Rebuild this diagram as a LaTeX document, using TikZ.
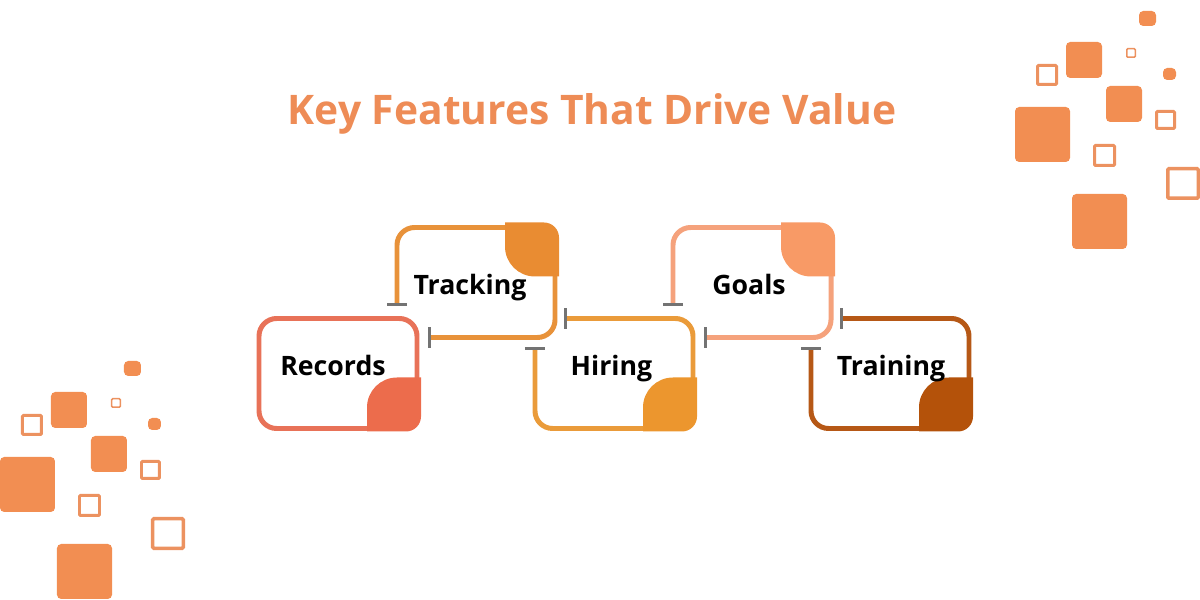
\documentclass[tikz,border=0pt]{standalone}
\usepackage{fontspec}
\setmainfont{Open Sans}
\usetikzlibrary{arrows.meta,calc}
\definecolor{sqorange}{RGB}{242,142,82}
\definecolor{sqline}{RGB}{236,146,96}
\definecolor{titleorange}{RGB}{238,140,86}
\definecolor{recframe}{RGB}{232,114,88}
\definecolor{recblob}{RGB}{236,108,76}
\definecolor{trkframe}{RGB}{232,146,58}
\definecolor{trkblob}{RGB}{233,140,50}
\definecolor{hirframe}{RGB}{234,155,58}
\definecolor{hirblob}{RGB}{236,150,46}
\definecolor{golframe}{RGB}{245,162,124}
\definecolor{golblob}{RGB}{248,154,102}
\definecolor{trnframe}{RGB}{182,88,22}
\definecolor{trnblob}{RGB}{180,82,10}

\tikzset{
  featbox/.style={minimum width=1.58cm, minimum height=1.1cm, outer sep=0pt, inner sep=0pt},
  boxframe/.style={line width=1.42pt, rounded corners=5pt,
    {Bar[width=5.8pt,line width=0.8pt,color=black!55]}-{Bar[width=5.8pt,line width=0.8pt,color=black!55]}},
  tagtext/.style={font=\fontsize{7.6}{9}\selectfont\bfseries, anchor=base, inner sep=0pt},
  % leaf shaped corner pieces
  blob se/.pic={
    \fill[pic actions] (-0.54,0) -- (-0.15,0) arc[start angle=270,end angle=360,radius=0.15]
      -- (0,0.54) -- (-0.24,0.54) arc[start angle=90,end angle=180,radius=0.3] -- cycle;
  },
  blob ne/.pic={
    \fill[pic actions] (-0.54,0) -- (-0.15,0) arc[start angle=90,end angle=0,radius=0.15]
      -- (0,-0.54) -- (-0.24,-0.54) arc[start angle=270,end angle=180,radius=0.3] -- cycle;
  },
  % cluster of little squares
  squares/.pic={
    \foreach \xa/\ya/\xb/\yb in {124/11/141/26, 51/42/87/78, 148/68/161/80,
                                 91/86/127/122, 0/107/55/162, 57/194/112/249}
      \fill[sqorange, rounded corners=1.2pt] (\xa/100,-\ya/100) rectangle (\xb/100,-\yb/100);
    \foreach \xa/\ya/\xb/\yb/\w in {21/64/43/86/3, 111/48/121/58/1.5, 140/110/161/130/3,
                                    78/144/101/167/3, 151/167/185/200/3.5}
      \draw[sqline, line width=\w*0.2845pt, rounded corners=0.3pt]
        (\xa/100+\w/200,-\ya/100-\w/200) rectangle (\xb/100-\w/200,-\yb/100+\w/200);
  }
}

\begin{document}
\begin{tikzpicture}
    \useasboundingbox (0,0) rectangle (12,6);

    % Decorations in the corners
    \pic at (10.15,6) {squares};
    \pic at (0,2.5) {squares};

    % Title
    \node[font=\fontsize{11.6}{14}\selectfont\bfseries, text=titleorange, anchor=base] (title) at (5.92,4.75) {Key Features That Drive Value};

    % Boxes
    \node[featbox, draw=recframe, line width=1.42pt, rounded corners=5pt] (rec) at (3.38,2.265) {};
    \node[featbox] (trk) at (4.76,3.175) {};
    \node[featbox] (hir) at (6.14,2.265) {};
    \node[featbox] (gol) at (7.52,3.175) {};
    \node[featbox] (trn) at (8.90,2.265) {};

    % Open frames
    \draw[boxframe, trkframe] ($(trk.south west)+(0.31,0)$) -- (trk.south east) -- (trk.north east) -- (trk.north west) -- ($(trk.south west)+(0,0.315)$);
    \draw[boxframe, hirframe] ($(hir.north west)+(0.29,0)$) -- (hir.north east) -- (hir.south east) -- (hir.south west) -- ($(hir.north west)+(0,-0.29)$);
    \draw[boxframe, golframe] ($(gol.south west)+(0.31,0)$) -- (gol.south east) -- (gol.north east) -- (gol.north west) -- ($(gol.south west)+(0,0.315)$);
    \draw[boxframe, trnframe] ($(trn.north west)+(0.29,0)$) -- (trn.north east) -- (trn.south east) -- (trn.south west) -- ($(trn.north west)+(0,-0.29)$);

    % Corner pieces
    \pic[fill=recblob] at ($(rec.south east)+(0.04,-0.03)$) {blob se};
    \pic[fill=trkblob] at ($(trk.north east)+(0.04,0.05)$) {blob ne};
    \pic[fill=hirblob] at ($(hir.south east)+(0.04,-0.03)$) {blob se};
    \pic[fill=golblob] at ($(gol.north east)+(0.04,0.05)$) {blob ne};
    \pic[fill=trnblob] at ($(trn.south east)+(0.04,-0.03)$) {blob se};

    % Labels
    \node[tagtext] (recT) at (3.33,2.25) {Records};
    \node[tagtext] (trkT) at (4.70,3.05) {Tracking};
    \node[tagtext] (hirT) at (6.115,2.25) {Hiring};
    \node[tagtext] (golT) at (7.49,3.05) {Goals};
    \node[tagtext] (trnT) at (8.91,2.25) {Training};
\end{tikzpicture}
\end{document}
